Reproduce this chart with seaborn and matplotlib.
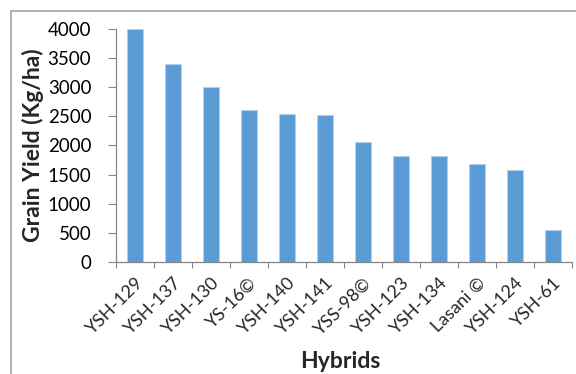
import matplotlib
matplotlib.use("Agg")
import matplotlib.pyplot as plt
import seaborn as sns
import pandas as pd
from matplotlib.patches import Rectangle

hybrids = ["YSH-129", "YSH-137", "YSH-130", "YS-16©", "YSH-140", "YSH-141",
           "YSS-98©", "YSH-123", "YSH-134", "Lasani ©", "YSH-124", "YSH-61"]
grain_yield = [4000, 3395, 2995, 2605, 2540, 2515, 2055, 1825, 1825, 1675, 1575, 545]

df = pd.DataFrame({"Hybrid": hybrids, "Yield": grain_yield})

sns.set_theme(style="white")
plt.rcParams["font.family"] = ["Lato", "DejaVu Sans"]

fig = plt.figure(figsize=(5.76, 3.74), dpi=100)
ax = fig.add_axes([116 / 576, 1 - 262 / 374, (572 - 116) / 576, (262 - 28.7) / 374])

sns.barplot(data=df, x="Hybrid", y="Yield", color="#5B9BD5", width=0.4,
            saturation=1, edgecolor="#B4CFEE", linewidth=0.8, ax=ax)

ax.set_ylim(0, 4000)
ax.set_xlim(-0.5, len(hybrids) - 0.5)
ax.set_yticks(range(0, 4001, 500))
ax.tick_params(axis="y", labelsize=13.5, labelcolor="#000000", color="#868686",
               length=5.8, width=0.8, direction="out", left=True, pad=12)

# category boundary ticks on the x axis, labels at the bar centres
ax.set_xticks([i - 0.5 for i in range(len(hybrids) + 1)], minor=False)
ax.set_xticklabels([])
ax.tick_params(axis="x", which="major", length=4.3, width=0.8, color="#868686",
               direction="out", bottom=True)
ax.set_xticks(range(len(hybrids)), minor=True)
ax.set_xticklabels(hybrids, minor=True, rotation=45, ha="right",
                   rotation_mode="anchor", fontsize=13)
ax.tick_params(axis="x", which="minor", length=0, pad=9)

for side in ["top", "right"]:
    ax.spines[side].set_visible(False)
for side in ["left", "bottom"]:
    ax.spines[side].set_color("#868686")
    ax.spines[side].set_linewidth(0.9)

ax.set_xlabel("")
ax.set_ylabel("")
fig.text(33 / 576, 1 - 145 / 374, "Grain Yield (Kg/ha)", fontsize=16.5,
         fontweight="bold", rotation=90, ha="center", va="center")
fig.text(340 / 576, 1 - 361 / 374, "Hybrids", fontsize=16.5, fontweight="bold",
         ha="center", va="center")

fig.patches.append(Rectangle((11 / 576, -0.1), 1.2, 1 - 11 / 374 + 0.1,
                             transform=fig.transFigure, fill=False,
                             edgecolor="#A6A6A6", linewidth=1.2))

fig.savefig("out.png", dpi=100)
